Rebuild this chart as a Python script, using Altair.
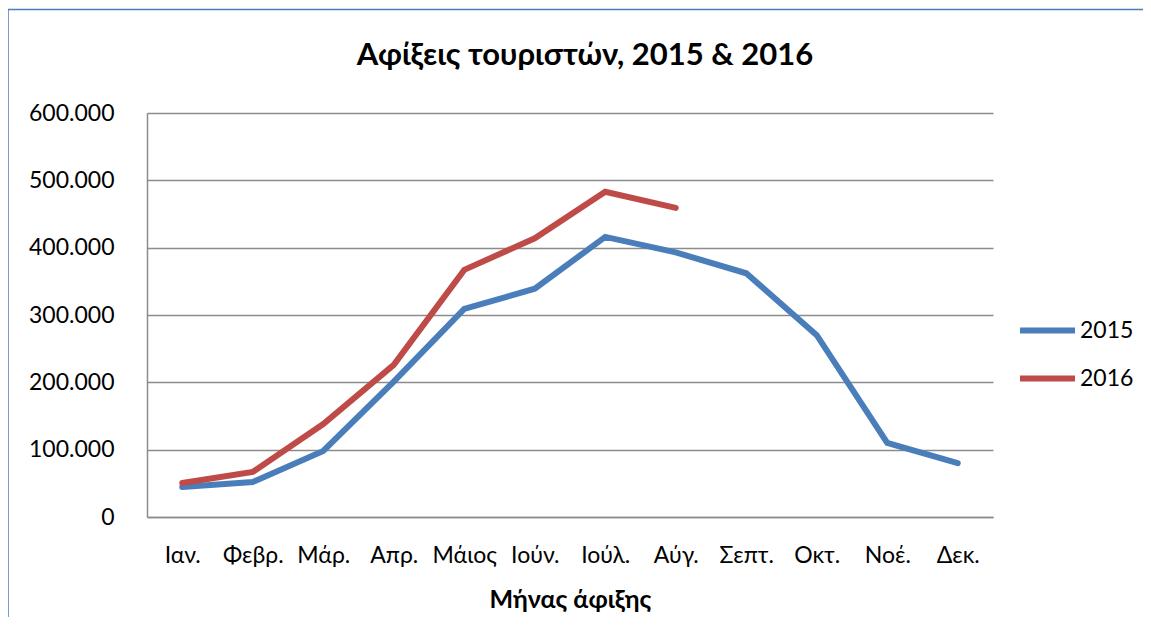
import altair as alt
import pandas as pd

months = ["Ιαν.", "Φεβρ.", "Μάρ.", "Απρ.", "Μάιος", "Ιούν.", "Ιούλ.", "Αύγ.", "Σεπτ.", "Οκτ.", "Νοέ.", "Δεκ."]
series = ["2015", "2016"]
values_2015 = [44500, 52000, 98000, 201000, 309000, 339000, 416000, 393000, 362000, 270000, 110000, 80000]
values_2016 = [50500, 67000, 138000, 226000, 367000, 414000, 483000, 459000]
y_ticks = [0, 100000, 200000, 300000, 400000, 500000, 600000]
colors = ["#4A7EBB", "#BE4B48"]
chart_title = "Αφίξεις τουριστών, 2015 & 2016"

rows = []
for m, v in zip(months, values_2015):
    rows.append({"month": m, "year": series[0], "value": v})
for m, v in zip(months, values_2016):
    rows.append({"month": m, "year": series[1], "value": v})
df = pd.DataFrame(rows)

FONT = "Lato"
W, H = 846, 404

lines = alt.Chart(df).mark_line(strokeWidth=6, strokeCap="round").encode(
    x=alt.X("month:N", sort=months, scale=alt.Scale(padding=0.5),
            axis=alt.Axis(title="Μήνας άφιξης", labelAngle=0, ticks=False,
                          labelPadding=27, titlePadding=20)),
    y=alt.Y("value:Q", scale=alt.Scale(domain=[0, 600000]),
            axis=alt.Axis(title=None, values=y_ticks, ticks=False, labelPadding=33,
                          labelExpr="replace(format(datum.value, ','), ',', '.')")),
    color=alt.Color("year:N", scale=alt.Scale(domain=series, range=colors),
                    legend=alt.Legend(title=None, orient="none", legendX=870, legendY=187,
                                      symbolType="stroke", symbolSize=3025,
                                      symbolStrokeWidth=6, labelOffset=2,
                                      rowPadding=5, labelFontSize=23, labelFont=FONT,
                                      labelColor="black")),
)

frame = alt.Chart(alt.Data(values=[{}])).mark_rect(
    fill="transparent", stroke="#4A7EBB", strokeWidth=1.5
).encode(
    x=alt.value(-139), x2=alt.value(W + 300), y=alt.value(-103.5), y2=alt.value(H + 300)
)

title = alt.Chart(alt.Data(values=[{"t": chart_title}])).mark_text(
    font=FONT, fontSize=31, fontWeight="bold", color="black", align="center", baseline="alphabetic"
).encode(
    text="t:N", x=alt.value(W / 2 + 15), y=alt.value(-48)
)

chart = alt.layer(frame, lines, title).properties(
    width=W, height=H,
    autosize=alt.AutoSizeParams(type="none"),
    padding={"left": 139, "top": 105, "right": 150, "bottom": 100},
    background="white",
).configure_view(stroke=None).configure_axis(
    labelFont=FONT, labelFontSize=23, labelColor="black",
    titleFont=FONT, titleFontSize=25, titleFontWeight="bold", titleColor="black",
    gridColor="#8C8C8C", gridWidth=1.5, gridOpacity=1,
    domainColor="#8C8C8C", domainWidth=1.5,
).configure_axisX(grid=False)

chart.save("out.html", embed_options={"renderer": "svg", "actions": False})
